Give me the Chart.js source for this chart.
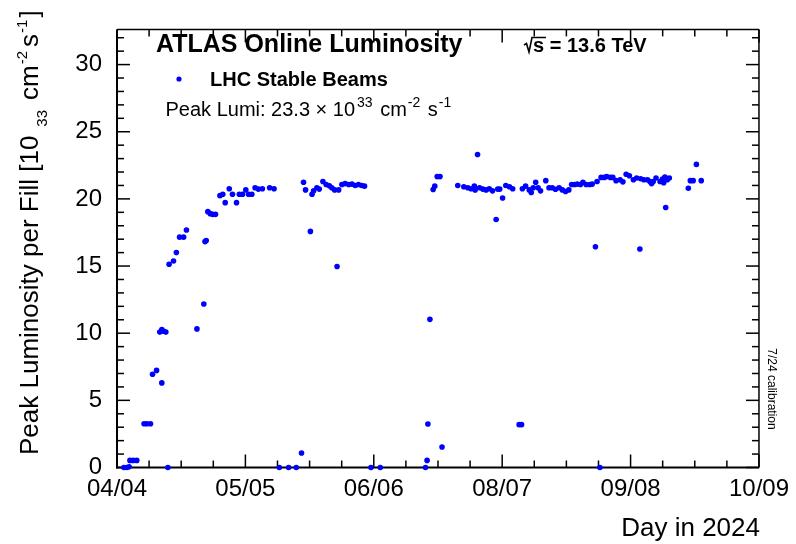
<!DOCTYPE html>
<html><head><meta charset="utf-8">
<script src="https://cdn.jsdelivr.net/npm/chart.js@4/dist/chart.umd.min.js"></script>
<style>html,body{margin:0;padding:0;background:#fff;}canvas{display:block;}</style>
</head><body>
<canvas id="c" width="796" height="544"></canvas>
<script>
// ---- data ----
const tickLabels = ['04/04', '05/05', '06/06', '08/07', '09/08', '10/09'];
const tickDays = [0, 31.8, 63.6, 95.4, 127.2, 159];   // days after 04/04
const yTicks = [0, 5, 10, 15, 20, 25, 30];
const days = [1.7, 2.4, 3.0, 3.2, 4.0, 4.9, 6.7, 7.4, 8.3, 8.8, 9.8, 10.6, 11.1, 11.1, 11.6, 12.1, 12.6, 12.9, 14.0, 14.7,
  15.5, 16.5, 17.2, 19.8, 21.5, 21.8, 22.1, 22.5, 23.1, 23.7, 24.4, 25.5, 26.2, 26.8, 27.8, 28.6, 29.6, 30.3, 31.1, 31.9,
  32.6, 33.4, 34.2, 35.0, 36.0, 37.8, 38.9, 40.2, 42.5, 44.4, 45.7, 46.2, 46.7, 47.9, 48.3, 48.7, 49.5, 50.1, 51.0, 51.8,
  52.6, 53.2, 53.9, 54.5, 54.9, 55.7, 56.5, 57.4, 58.2, 59.0, 59.8, 60.6, 61.3, 62.9, 65.2, 76.4, 76.8, 77.0, 77.5, 78.3,
  78.7, 79.3, 80.0, 80.5, 84.4, 85.9, 86.9, 87.7, 88.5, 88.7, 89.3, 89.8, 90.6, 91.4, 92.2, 93.0, 93.9, 94.3, 94.8, 95.5,
  96.3, 97.2, 98.0, 99.6, 100.2, 100.4, 101.2, 102.1, 102.6, 103.1, 103.7, 104.3, 104.9, 106.2, 107.0, 107.8, 108.6, 109.5, 110.3, 111.1,
  111.9, 112.6, 113.3, 114.0, 114.8, 115.4, 116.2, 117.1, 117.7, 118.5, 118.9, 119.6, 119.9, 120.7, 121.3, 122.2, 122.8, 123.6, 124.6, 125.3,
  126.1, 126.9, 127.9, 128.7, 129.5, 129.7, 130.5, 131.4, 132.0, 132.4, 132.8, 133.5, 134.5, 135.1, 135.4, 135.7, 135.9, 136.3, 136.8, 141.5,
  142.0, 142.7, 143.5, 144.7];
const lumi = [0.0, 0.0, 0.05, 0.53, 0.53, 0.53, 3.26, 3.26, 3.26, 6.94, 7.23, 10.08, 10.27, 6.3, 10.15, 10.08, 0.0, 15.13, 15.37, 16.0,
  17.15, 17.15, 17.68, 10.32, 12.17, 16.82, 16.9, 19.05, 18.9, 18.85, 18.85, 20.24, 20.35, 19.72, 20.76, 20.35, 19.72, 20.35, 20.35, 20.67,
  20.35, 20.35, 20.83, 20.73, 20.76, 20.83, 20.76, 0.0, 0.0, 0.0, 1.08, 21.24, 20.67, 17.58, 20.35, 20.6, 20.83, 20.73, 21.3, 21.07,
  20.97, 20.83, 20.67, 14.97, 20.67, 21.07, 21.14, 21.07, 21.1, 21.0, 21.07, 21.0, 20.95, 0.0, 0.0, 0.0, 0.53, 3.24, 11.03, 20.7,
  20.95, 21.66, 21.66, 1.53, 21.0, 20.9, 20.83, 20.76, 20.95, 20.67, 23.3, 20.83, 20.73, 20.67, 20.76, 20.6, 18.46, 20.73, 20.73, 20.07,
  21.0, 20.9, 20.76, 3.19, 3.19, 20.76, 20.95, 20.67, 20.48, 20.83, 21.24, 20.83, 20.6, 21.36, 20.83, 20.83, 20.72, 20.83, 20.67, 20.55,
  20.67, 21.07, 21.07, 21.1, 21.07, 21.24, 21.07, 21.07, 21.1, 16.44, 21.3, 0.0, 21.6, 21.6, 21.67, 21.6, 21.6, 21.36, 21.43, 21.27,
  21.83, 21.72, 21.43, 21.55, 16.27, 21.5, 21.43, 21.43, 21.3, 21.14, 21.3, 21.55, 21.3, 21.48, 21.2, 21.62, 19.36, 21.43, 21.55, 20.79,
  21.36, 21.36, 22.57, 21.36];

const FONT = "'Liberation Sans', Arial, Helvetica, sans-serif";
const BLUE = '#0000ff';
Chart.defaults.font.family = FONT;

function richText(ctx, parts, x, y, size, supSize, supShift) {
  let cx = x;
  for (const p of parts) {
    const s = p.sup ? supSize : size;
    ctx.font = (p.bold ? 'bold ' : '') + s + 'px ' + FONT;
    const dy = p.sup ? -supShift : (p.sub ? supShift : 0);
    ctx.fillText(p.t, cx, y + dy);
    cx += ctx.measureText(p.t).width + (p.gap || 0);
  }
  return cx;
}

const framePlugin = {
  id: 'frame',
  beforeDatasetsDraw(chart) {
    const { ctx, chartArea: a, scales: { x, y } } = chart;
    ctx.save();
    ctx.strokeStyle = '#000';
    ctx.lineWidth = 1.5;
    const line = (x1, y1, x2, y2) => { ctx.beginPath(); ctx.moveTo(x1, y1); ctx.lineTo(x2, y2); ctx.stroke(); };
    const nMinor = 20;
    for (let k = 0; k <= nMinor; k++) {
      const px = x.getPixelForValue(k * tickDays[tickDays.length - 1] / nMinor);
      const len = k % 4 === 0 ? 13 : 7;
      line(px, a.bottom, px, a.bottom - len);
      line(px, a.top, px, a.top + len);
    }
    for (let v = 0; v <= 32; v++) {
      const py = y.getPixelForValue(v);
      const len = v % 5 === 0 ? 13 : 7;
      line(a.left, py, a.left + len, py);
      line(a.right, py, a.right - len, py);
    }
    ctx.lineWidth = 1.5;
    line(a.left, a.top, a.right, a.top);
    line(a.right, a.top, a.right, a.bottom);
    ctx.lineWidth = 2;
    line(a.left, a.top, a.left, a.bottom + 1);
    line(a.left - 1, a.bottom, a.right, a.bottom);
    ctx.restore();
  },
  afterDraw(chart) {
    const { ctx } = chart;
    ctx.save();
    ctx.fillStyle = '#000';
    ctx.textBaseline = 'alphabetic';
    ctx.textAlign = 'left';
    // ATLAS label
    ctx.font = 'bold 25px ' + FONT;
    ctx.fillText('ATLAS Online Luminosity', 156, 52);
    // sqrt(s)
    ctx.strokeStyle = '#000';
    ctx.lineWidth = 1.6;
    ctx.beginPath();
    ctx.moveTo(524, 45); ctx.lineTo(526.5, 43.5); ctx.lineTo(529, 52); ctx.lineTo(532, 37.5); ctx.lineTo(546, 37.5);
    ctx.stroke();
    ctx.font = 'bold 20px ' + FONT;
    ctx.fillText('s = 13.6 TeV', 533, 52);
    // legend
    ctx.fillStyle = BLUE;
    ctx.beginPath(); ctx.arc(179, 79, 2.6, 0, Math.PI * 2); ctx.fill();
    ctx.fillStyle = '#000';
    ctx.font = 'bold 20px ' + FONT;
    ctx.fillText(chart.data.datasets[0].label, 210, 86);
    // peak lumi
    richText(ctx, [
      { t: 'Peak Lumi: 23.3 \u00d7 10', gap: 2 }, { t: '33', sup: true, gap: 2 },
      { t: ' cm', gap: 1 }, { t: '-2', sup: true, gap: 2 }, { t: ' s', gap: 1 }, { t: '-1', sup: true }
    ], 165.5, 115.5, 20, 14, 9);
    // y-axis title
    ctx.save();
    ctx.translate(38, 455);
    ctx.rotate(-Math.PI / 2);
    let cx = richText(ctx, [{ t: 'Peak Luminosity per Fill [10' }], 0, 0, 26, 15, 0);
    ctx.font = '15px ' + FONT;
    ctx.fillText('33', cx + 9, 9);
    cx += 9 + ctx.measureText('33').width + 10;
    cx = richText(ctx, [
      { t: 'cm', gap: 1 }, { t: '-2', sup: true, gap: 4 }, { t: 's', gap: 1 }, { t: '-1', sup: true, gap: 2 }, { t: ']' }
    ], cx, 0, 26, 15, 11);
    ctx.restore();
    // x-axis title
    ctx.font = '26px ' + FONT;
    ctx.textAlign = 'right';
    ctx.fillText('Day in 2024', 760, 536);
    // calibration note
    ctx.save();
    ctx.translate(771.5, 389);
    ctx.rotate(Math.PI / 2);
    ctx.textAlign = 'center';
    ctx.textBaseline = 'middle';
    ctx.font = '12px ' + FONT;
    ctx.fillText('7/24 calibration', 0, 0);
    ctx.restore();
    ctx.restore();
  }
};

new Chart(document.getElementById('c'), {
  type: 'scatter',
  data: {
    datasets: [{
      label: 'LHC Stable Beams',
      data: days.map((d, i) => ({ x: d, y: lumi[i] })),
      pointRadius: 2.8,
      pointHoverRadius: 2.8,
      pointBackgroundColor: BLUE,
      pointBorderWidth: 0,
      borderColor: BLUE,
      showLine: false,
      clip: false
    }]
  },
  options: {
    responsive: false,
    animation: false,
    devicePixelRatio: 1,
    layout: { padding: { left: 0, right: 33, top: 9, bottom: 0 } },
    plugins: { legend: { display: false }, tooltip: { enabled: false } },
    scales: {
      x: {
        type: 'linear', min: 0, max: tickDays[tickDays.length - 1],
        afterBuildTicks: s => { s.ticks = tickDays.map(v => ({ value: v })); },
        afterFit: s => { s.height = 76.5; },
        ticks: {
          autoSkip: false, maxRotation: 0, padding: 7, color: '#000',
          font: { family: FONT, size: 24 },
          callback: (v, i) => tickLabels[i]
        },
        grid: { display: false, drawTicks: false },
        border: { display: false }
      },
      y: {
        min: 0, max: 32.62,
        afterBuildTicks: s => { s.ticks = yTicks.map(v => ({ value: v })); },
        afterFit: s => { s.width = 117; },
        ticks: { padding: 15, color: '#000', font: { family: FONT, size: 24 } },
        grid: { display: false, drawTicks: false },
        border: { display: false }
      }
    }
  },
  plugins: [framePlugin]
});
</script>
</body></html>
